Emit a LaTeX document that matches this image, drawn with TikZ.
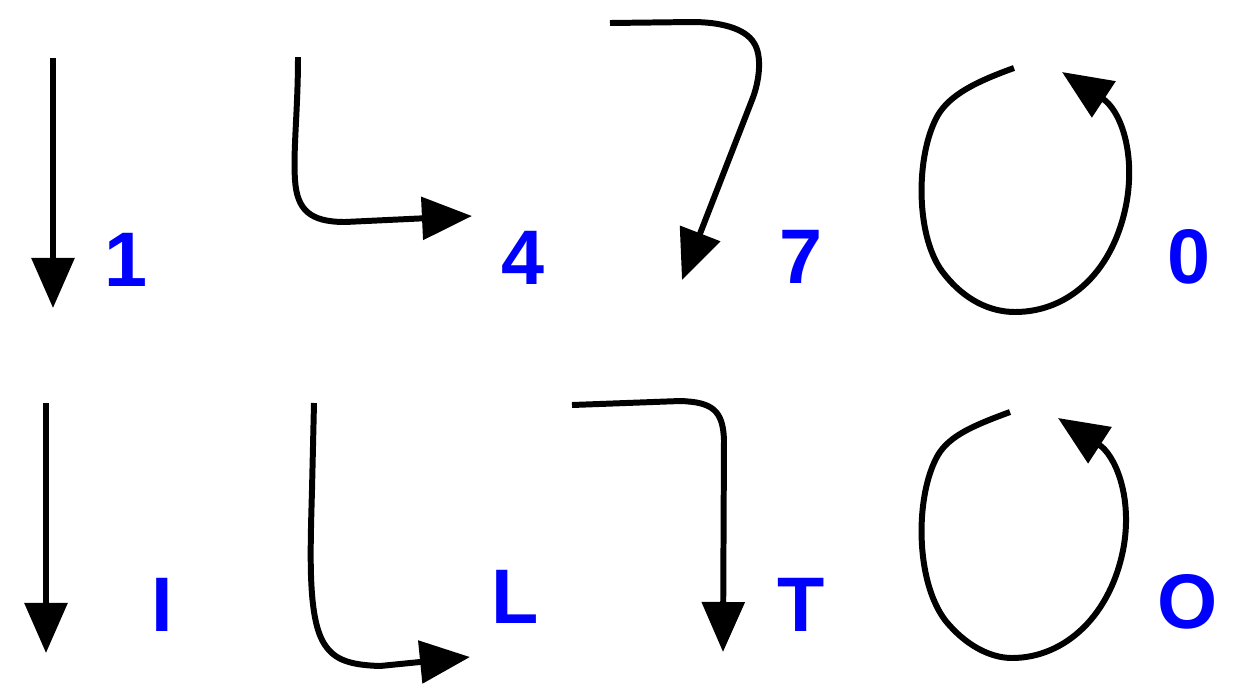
\documentclass[tikz,border=0pt]{standalone}
\usepackage{fontspec}
\setmainfont{Liberation Sans}
\usetikzlibrary{arrows.meta}

\begin{document}
\begin{tikzpicture}[x=0.01cm,y=-0.01cm,
  stroke/.style={line width=1.7pt, -{Triangle[length=0.5cm,width=0.42cm]}},
  glyph/.style={text=blue, inner sep=0pt, font=\bfseries\fontsize{22}{22}\selectfont}]
	\useasboundingbox (0,0) rectangle (1256,699);
	% Top row: digits
	\coordinate (s1) at (53,58);    \coordinate (e1) at (53,308);
	\coordinate (s4) at (298,57);   \coordinate (e4) at (472,216);
	\coordinate (s7) at (610,23);   \coordinate (e7) at (682,280);
	\coordinate (s0) at (1014,68);  \coordinate (e0) at (1062,72);
	\node[glyph] (n1) at (126,260) {1};
	\node[glyph] (n4) at (523,258) {4};
	\node[glyph] (n7) at (801,257) {7};
	\node[glyph] (n0) at (1189,257) {0};
	
	\draw[stroke] (s1) -- (e1);
	\draw[stroke] (s4) .. controls (298,110) and (293,150) .. (295,180)
		.. controls (297,210) and (310,222) .. (345,222) -- (e4);
	\draw[stroke] (s7) -- (692,22) .. controls (720,22) and (745,28) .. (754,43)
		.. controls (762,55) and (760,80) .. (752,100) -- (e7);
	\draw[stroke] (s0) .. controls (975,82) and (950,95) .. (938,115)
		.. controls (915,155) and (915,240) .. (945,275)
		.. controls (965,300) and (990,312) .. (1015,312)
		.. controls (1070,312) and (1115,270) .. (1127,200)
		.. controls (1135,150) and (1120,110) .. (e0);
	
	% Bottom row: letters
	\coordinate (sI) at (46,403);   \coordinate (eI) at (46,653);
	\coordinate (sL) at (314,403);  \coordinate (eL) at (470,657);
	\coordinate (sT) at (572,405);  \coordinate (eT) at (723,652);
	\coordinate (sO) at (1010,412); \coordinate (eO) at (1058,418);
	\node[glyph] (nI) at (162,605) {I};
	\node[glyph] (nL) at (515,597) {L};
	\node[glyph] (nT) at (801,605) {T};
	\node[glyph] (nO) at (1188,602) {O};
	
	\draw[stroke] (sI) -- (eI);
	\draw[stroke] (sL) -- (312,490) .. controls (310,560) and (308,620) .. (325,645)
		.. controls (335,660) and (350,665) .. (380,666) -- (eL);
	\draw[stroke] (sT) -- (680,401) .. controls (712,402) and (723,410) .. (724,440) -- (eT);
	\draw[stroke] (sO) .. controls (975,425) and (950,435) .. (938,455)
		.. controls (915,495) and (915,580) .. (945,620)
		.. controls (965,645) and (990,658) .. (1012,658)
		.. controls (1065,658) and (1112,615) .. (1124,545)
		.. controls (1132,495) and (1115,455) .. (eO);
\end{tikzpicture}
\end{document}
